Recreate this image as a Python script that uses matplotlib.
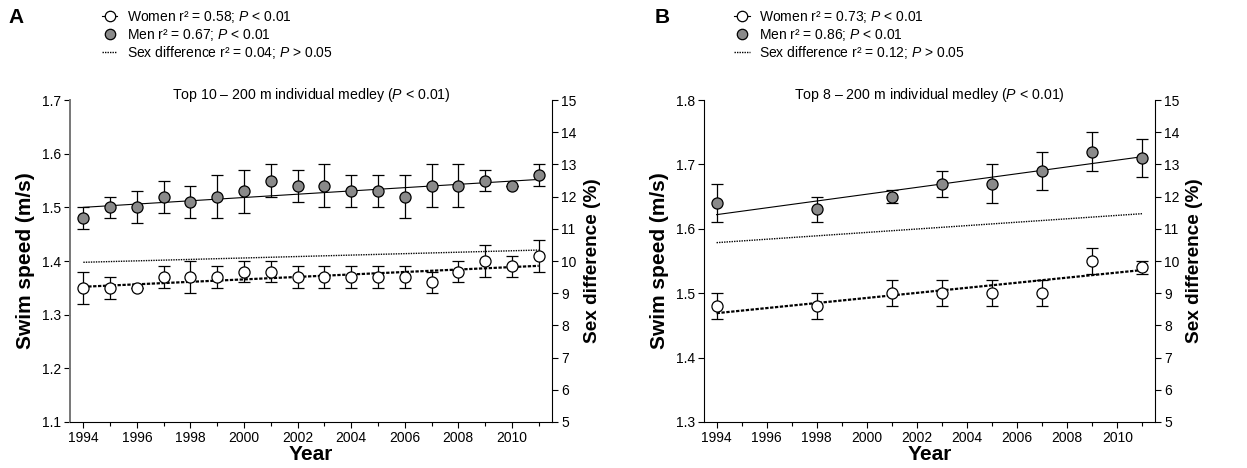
import numpy as np
import matplotlib
matplotlib.use("Agg")
import matplotlib.pyplot as plt
from matplotlib.lines import Line2D
from matplotlib.ticker import MultipleLocator

plt.rcParams["font.family"] = ["Liberation Sans", "DejaVu Sans"]
plt.rcParams["mathtext.fontset"] = "custom"
plt.rcParams["mathtext.rm"] = "Liberation Sans"
plt.rcParams["mathtext.it"] = "Liberation Sans:italic"

# Panel A - top 10
years_a = [1994, 1995, 1996, 1997, 1998, 1999, 2000, 2001, 2002, 2003,
           2004, 2005, 2006, 2007, 2008, 2009, 2010, 2011]
men_a = [1.48, 1.50, 1.50, 1.52, 1.51, 1.52, 1.53, 1.55, 1.54, 1.54,
         1.53, 1.53, 1.52, 1.54, 1.54, 1.55, 1.54, 1.56]
men_a_err = [0.02, 0.02, 0.03, 0.03, 0.03, 0.04, 0.04, 0.03, 0.03, 0.04,
             0.03, 0.03, 0.04, 0.04, 0.04, 0.02, 0.0, 0.02]
women_a = [1.35, 1.35, 1.35, 1.37, 1.37, 1.37, 1.38, 1.38, 1.37, 1.37,
           1.37, 1.37, 1.37, 1.36, 1.38, 1.40, 1.39, 1.41]
women_a_err = [0.03, 0.02, 0.0, 0.02, 0.03, 0.02, 0.02, 0.02, 0.02, 0.02,
               0.02, 0.02, 0.02, 0.02, 0.02, 0.03, 0.02, 0.03]
men_fit_a = [1.500, 1.552]
women_fit_a = [1.352, 1.391]
diff_fit_a = [9.96, 10.34]

# Panel B - top 8
years_b = [1994, 1998, 2001, 2003, 2005, 2007, 2009, 2011]
men_b = [1.64, 1.63, 1.65, 1.67, 1.67, 1.69, 1.72, 1.71]
men_b_err = [0.03, 0.02, 0.01, 0.02, 0.03, 0.03, 0.03, 0.03]
women_b = [1.48, 1.48, 1.50, 1.50, 1.50, 1.50, 1.55, 1.54]
women_b_err = [0.02, 0.02, 0.02, 0.02, 0.02, 0.02, 0.02, 0.01]
men_fit_b = [1.622, 1.712]
women_fit_b = [1.469, 1.536]
diff_fit_b = [10.57, 11.47]

fit_years = [1994, 2011]
gray = "#8a8a8a"

fig = plt.figure(figsize=(12.47, 4.68), dpi=100)


def panel(rect, years, men, men_err, women, women_err, men_fit, women_fit,
          diff_fit, ylim, title, letter, letter_x, labels, left_spine_color):
    ax = fig.add_axes(rect)
    ax2 = ax.twinx()
    ax.set_zorder(ax2.get_zorder() + 1)
    ax.patch.set_visible(False)

    ax.errorbar(years, men, yerr=men_err, fmt="o", ms=8, mfc=gray, mec="k",
                mew=0.9, ecolor="k", elinewidth=0.9, capsize=4, capthick=0.9,
                zorder=3)
    ax.errorbar(years, women, yerr=women_err, fmt="o", ms=8, mfc="white",
                mec="k", mew=0.9, ecolor="k", elinewidth=0.9, capsize=4,
                capthick=0.9, zorder=3)
    ax.plot(fit_years, men_fit, color="k", lw=0.8, zorder=2)
    ax.plot(fit_years, women_fit, color="k", lw=1.6, ls=(0, (1.5, 0.7)),
            zorder=2)
    ax2.plot(fit_years, diff_fit, color="k", lw=1.0, ls=(0, (1, 0.8)))

    ax.set_xlim(1993.5, 2011.5)
    ax.set_ylim(*ylim)
    ax2.set_ylim(5, 15)
    ax.xaxis.set_minor_locator(MultipleLocator(1))
    ax.set_xticks(range(1994, 2012, 2))
    ax.yaxis.set_major_locator(MultipleLocator(0.1))
    ax.yaxis.set_major_formatter(plt.FormatStrFormatter("%.1f"))
    ax2.yaxis.set_major_locator(MultipleLocator(1))

    for a in (ax, ax2):
        a.spines["top"].set_visible(False)
        a.tick_params(direction="out", labelsize=10, length=4, width=0.8,
                      colors="k", pad=2.5)
        a.tick_params(which="minor", direction="out", length=3, width=0.8)
    ax.spines["right"].set_visible(False)
    ax2.spines["left"].set_visible(False)
    ax2.spines["bottom"].set_visible(False)
    ax.spines["left"].set_color(left_spine_color)
    ax.spines["left"].set_linewidth(1.4 if left_spine_color != "k" else 0.8)
    ax.spines["bottom"].set_linewidth(0.8)
    ax2.spines["right"].set_linewidth(0.8)

    ax.set_xlabel("Year", fontsize=15, fontweight="bold", labelpad=0)
    ax.set_ylabel("Swim speed (m/s)", fontsize=15, fontweight="bold",
                  labelpad=5)
    ax2.set_ylabel("Sex difference (%)", fontsize=13.7, fontweight="bold",
                   labelpad=5)
    ax.set_title(title, fontsize=10.2, y=1.004, pad=0)

    handles = [
        Line2D([], [], marker="o", ms=7.5, mfc="white", mec="k", mew=0.9,
               color="k", lw=0.8),
        Line2D([], [], marker="o", ms=7.5, mfc=gray, mec="k", mew=0.9,
               ls="none"),
        Line2D([], [], color="k", lw=1.0, ls=(0, (1, 0.8))),
    ]
    ax.legend(handles, labels, loc="upper left",
              bbox_to_anchor=(0.055, 1.3), frameon=False,
              fontsize=10, handlelength=1.1, handletextpad=0.7,
              labelspacing=0.12, borderaxespad=0)
    fig.text(letter_x, 0.962, letter, fontsize=15, fontweight="bold",
             ha="left", va="center")
    return ax


labels_a = [r"Women r² = 0.58; $P$ < 0.01",
            r"Men r² = 0.67; $P$ < 0.01",
            r"Sex difference r² = 0.04; $P$ > 0.05"]
labels_b = [r"Women r² = 0.73; $P$ < 0.01",
            r"Men r² = 0.86; $P$ < 0.01",
            r"Sex difference r² = 0.12; $P$ > 0.05"]

panel([0.0561, 0.0983, 0.3866, 0.688], years_a, men_a, men_a_err, women_a,
      women_a_err, men_fit_a, women_fit_a, diff_fit_a, (1.1, 1.7),
      r"Top 10 – 200 m individual medley ($P$ < 0.01)", "A", 0.007,
      labels_a, "#777777")
panel([0.5646, 0.0983, 0.3616, 0.688], years_b, men_b, men_b_err, women_b,
      women_b_err, men_fit_b, women_fit_b, diff_fit_b, (1.3, 1.8),
      r"Top 8 – 200 m individual medley ($P$ < 0.01)", "B", 0.525,
      labels_b, "k")

fig.savefig("out.png", dpi=100)
